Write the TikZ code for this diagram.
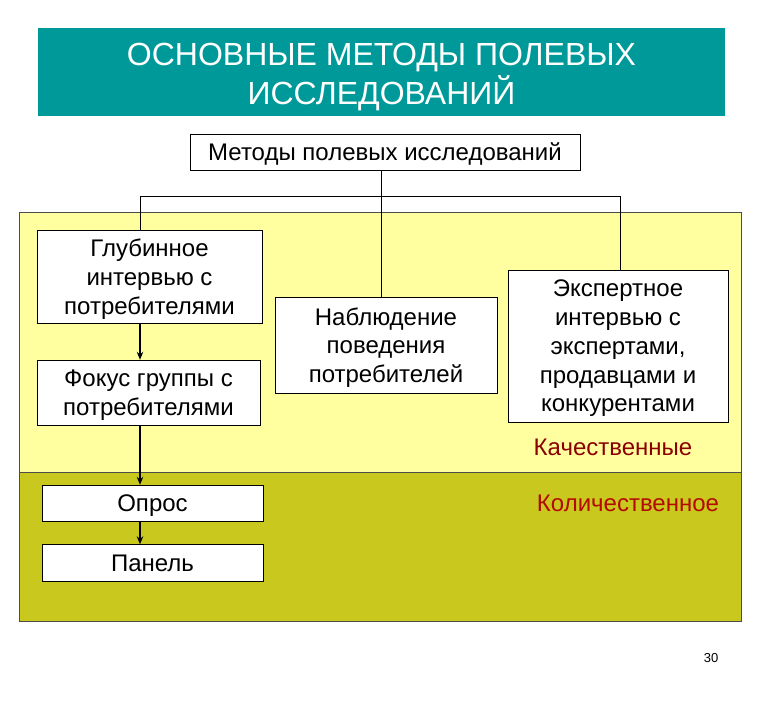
\documentclass[tikz,border=0pt]{standalone}
\usepackage{fontspec}
\setmainfont{Liberation Sans}
\usetikzlibrary{positioning,arrows.meta,calc}
\definecolor{titlebg}{RGB}{0,153,153}
\definecolor{qualbg}{RGB}{255,255,160}
\definecolor{quantbg}{RGB}{200,200,30}
\definecolor{qualtxt}{RGB}{140,0,0}
\definecolor{quanttxt}{RGB}{180,10,0}
\begin{document}
\begin{tikzpicture}[x=1pt, y=-1pt, >={Stealth[length=8pt,width=6.5pt]},
  font=\fontsize{24}{28.7}\selectfont,
  box/.style={draw, fill=white, align=center, inner sep=0pt, text depth=0pt},
  head/.style={text=white, align=center, inner sep=0pt,
    font=\fontsize{32}{39}\selectfont}]
  \useasboundingbox (0,0) rectangle (766,709);
  % title and the two areas
  \fill[titlebg] (38,28) rectangle (725,116);
  \node[head](title) at (381.5,77) {ОСНОВНЫЕ МЕТОДЫ ПОЛЕВЫХ\\ИССЛЕДОВАНИЙ};
  \filldraw[fill=qualbg, draw=black!70] (19,212) rectangle (741,472);
  \filldraw[fill=quantbg, draw=black!70] (19,472) rectangle (741,621);
  % boxes
  \node[box, minimum width=390pt, minimum height=36pt](methods) at (385,152)
    {Методы полевых исследований};
  \node[box, minimum width=225pt, minimum height=93pt](deep) at (149.5,276.5)
    {Глубинное\\интервью с\\потребителями};
  \node[box, minimum width=223pt, minimum height=65pt](focus) at (148.5,392.5)
    {Фокус группы с\\потребителями};
  \node[box, minimum width=222pt, minimum height=96pt](observe) at (386,345)
    {Наблюдение\\поведения\\потребителей};
  \node[box, minimum width=220pt, minimum height=152pt](expert) at (618,346)
    {Экспертное\\интервью с\\экспертами,\\продавцами и\\конкурентами};
  \node[box, minimum width=221pt, minimum height=36pt](survey) at (152.5,503) {Опрос};
  \node[box, minimum width=221pt, minimum height=37pt](panel) at (152.5,563) {Панель};
  % labels
  \node[text=qualtxt](quallab) at (613,447) {Качественные};
  \node[text=quanttxt](quantlab) at (628,503) {Количественное};
  \node[font=\fontsize{13}{15}\selectfont](page) at (711,658) {30};
  % connectors
  \coordinate(fork) at (381,196);
  \coordinate(lbus) at (140,196);
  \coordinate(rbus) at (620,196);
  \draw (methods.south -| fork) -- (observe.north -| fork);
  \draw (deep.north -| lbus) -- (lbus) -- (rbus) -- (expert.north -| rbus);
  \draw[->, line width=1.2pt] (deep.south -| lbus) -- (focus.north -| lbus);
  \draw[->, line width=1.2pt] (focus.south -| lbus) -- (survey.north -| lbus);
  \draw[->, line width=1.2pt] (survey.south -| lbus) -- (panel.north -| lbus);
\end{tikzpicture}
\end{document}
